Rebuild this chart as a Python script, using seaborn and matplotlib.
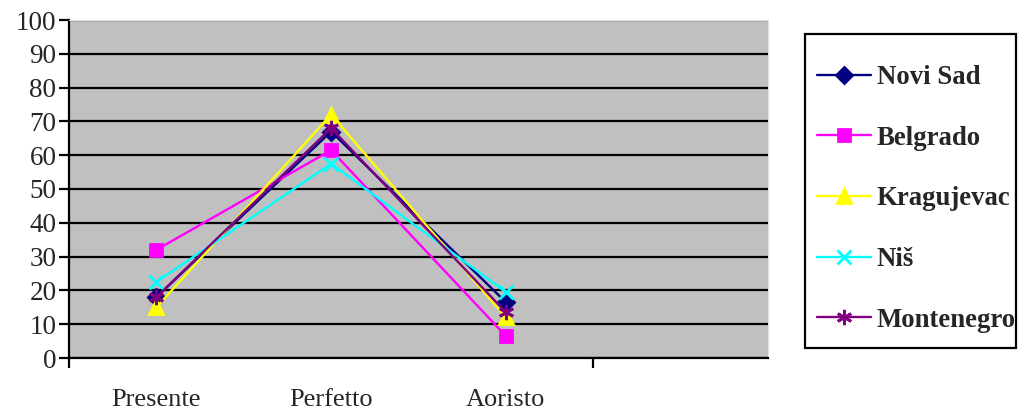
import matplotlib
matplotlib.use('Agg')

import pandas as pd
import matplotlib.pyplot as plt
import seaborn as sns
from matplotlib.patches import Rectangle

# Données
tempi = ["Presente", "Perfetto", "Aoristo"]
citta = ["Novi Sad", "Belgrado", "Kragujevac", "Niš", "Montenegro"]
novi_sad = [18, 67, 16.5]
belgrado = [32, 61.5, 6.5]
kragujevac = [15, 72, 12]
nis = [22.5, 57.5, 19.5]
montenegro = [18, 68, 13.5]

colori = ["#000080", "#FF00FF", "#FFFF00", "#00FFFF", "#800080"]
marcatori = ["D", "s", "^", "x", (6, 2, 0)]
taglie = [8, 9, 10, 10, 11]

valori = [novi_sad, belgrado, kragujevac, nis, montenegro]

sns.set_style("white")
plt.rcParams['font.family'] = ['Liberation Serif', 'DejaVu Serif']

W, H = 1018, 411
fig = plt.figure(figsize=(W / 100, H / 100), dpi=100)
ax = fig.add_axes([69 / W, 53 / H, 699 / W, 338 / H])
ax.set_facecolor("#C0C0C0")

for nome, serie, col, m, ms in zip(citta, valori, colori, marcatori, taglie):
    df = pd.DataFrame({"Tempo": tempi, "Valore": serie})
    sns.lineplot(data=df, x="Tempo", y="Valore", color=col, marker=m,
                 markeredgecolor=col, markerfacecolor=col, markeredgewidth=2,
                 markersize=ms, linewidth=1.7, sort=False, label=nome, ax=ax)

ax.set_xlim(-0.5, 3.5)
ax.set_ylim(0, 100)
ax.set_yticks(range(0, 101, 10))
ax.set_yticklabels([str(v) for v in range(0, 101, 10)], fontsize=19.5)
ax.set_xticks([-0.5, 2.5])
ax.set_xticklabels([])
for i, t in enumerate(tempi):
    ax.annotate(t, xy=(i, 0), xycoords=("data", "axes fraction"),
                xytext=(0, -22), textcoords="offset points",
                ha="center", va="top", fontsize=19)

ax.yaxis.grid(True, color="black", linewidth=1.6)
ax.xaxis.grid(False)
ax.set_axisbelow(True)
ax.tick_params(axis="both", direction="out", length=7, width=1.6, color="black",
               left=True, bottom=True, pad=2)
ax.spines["left"].set_linewidth(1.6)
ax.spines["bottom"].set_linewidth(1.6)
ax.spines["left"].set_color("black")
ax.spines["bottom"].set_color("black")
ax.spines["top"].set_color("#E0E0E0")
ax.spines["right"].set_color("#E0E0E0")
ax.set_xlabel("")
ax.set_ylabel("")

# cadre de la légende
fig.patches.append(Rectangle((805 / W, 1 - 348 / H), 211 / W, 314 / H,
                             transform=fig.transFigure, fill=False,
                             edgecolor="black", linewidth=1.6))

handles, labels = ax.get_legend_handles_labels()
ax.legend_.remove()
fig.legend(handles, labels, loc="upper left",
           bbox_to_anchor=(817 / W, 1 - 65 / H), frameon=False,
           prop={"weight": "bold", "size": 19.3}, labelspacing=1.33,
           handlelength=2.0, handletextpad=0.22, borderpad=0,
           borderaxespad=0)

fig.savefig("out.png", dpi=100)
plt.close(fig)
